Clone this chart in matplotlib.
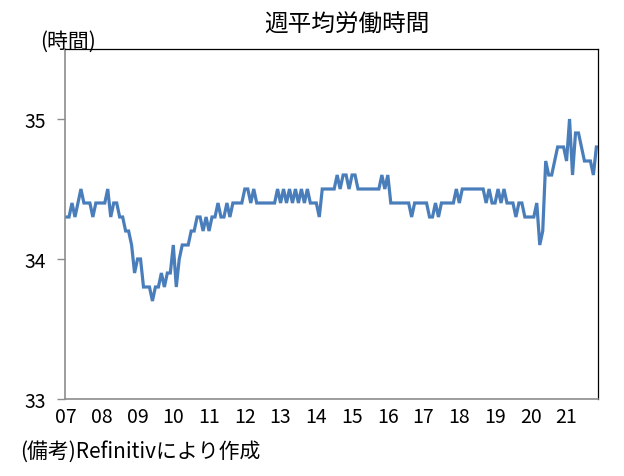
import matplotlib.pyplot as plt
import numpy as np

plt.rcParams['font.family'] = ['Noto Sans CJK JP', 'DejaVu Sans']

# 月次データ 2007年1月〜2021年11月 (週平均労働時間)
hours = [
    # 2007
    34.3, 34.3, 34.4, 34.3, 34.4, 34.5, 34.4, 34.4, 34.4, 34.3, 34.4, 34.4,
    # 2008
    34.4, 34.4, 34.5, 34.3, 34.4, 34.4, 34.3, 34.3, 34.2, 34.2, 34.1, 33.9,
    # 2009
    34.0, 34.0, 33.8, 33.8, 33.8, 33.7, 33.8, 33.8, 33.9, 33.8, 33.9, 33.9,
    # 2010
    34.1, 33.8, 34.0, 34.1, 34.1, 34.1, 34.2, 34.2, 34.3, 34.3, 34.2, 34.3,
    # 2011
    34.2, 34.3, 34.3, 34.4, 34.3, 34.3, 34.4, 34.3, 34.4, 34.4, 34.4, 34.4,
    # 2012
    34.5, 34.5, 34.4, 34.5, 34.4, 34.4, 34.4, 34.4, 34.4, 34.4, 34.4, 34.5,
    # 2013
    34.4, 34.5, 34.4, 34.5, 34.4, 34.5, 34.4, 34.5, 34.4, 34.5, 34.4, 34.4,
    # 2014
    34.4, 34.3, 34.5, 34.5, 34.5, 34.5, 34.5, 34.6, 34.5, 34.6, 34.6, 34.5,
    # 2015
    34.6, 34.6, 34.5, 34.5, 34.5, 34.5, 34.5, 34.5, 34.5, 34.5, 34.6, 34.5,
    # 2016
    34.6, 34.4, 34.4, 34.4, 34.4, 34.4, 34.4, 34.4, 34.3, 34.4, 34.4, 34.4,
    # 2017
    34.4, 34.4, 34.3, 34.3, 34.4, 34.3, 34.4, 34.4, 34.4, 34.4, 34.4, 34.5,
    # 2018
    34.4, 34.5, 34.5, 34.5, 34.5, 34.5, 34.5, 34.5, 34.5, 34.4, 34.5, 34.4,
    # 2019
    34.4, 34.5, 34.4, 34.5, 34.4, 34.4, 34.4, 34.3, 34.4, 34.4, 34.3, 34.3,
    # 2020
    34.3, 34.3, 34.4, 34.1, 34.2, 34.7, 34.6, 34.6, 34.7, 34.8, 34.8, 34.8,
    # 2021
    34.7, 35.0, 34.6, 34.9, 34.9, 34.8, 34.7, 34.7, 34.7, 34.6, 34.8,
]
year_labels = ['07', '08', '09', '10', '11', '12', '13', '14', '15',
               '16', '17', '18', '19', '20', '21']
y_ticks = [33, 34, 35]

fig = plt.figure(figsize=(6.24, 4.77), dpi=100)
ax = fig.add_axes([65 / 624, 1 - 400 / 477, 533 / 624, 350 / 477])

x = np.arange(len(hours))
ax.plot(x, hours, color='#4A7EBB', linewidth=2.3, solid_joinstyle='miter')

ax.set_xlim(-0.35, len(hours) - 0.45)
ax.set_ylim(33, 35.5)
ax.set_yticks(y_ticks)
ax.set_yticklabels([str(v) for v in y_ticks], fontsize=14)
ax.set_xticks(np.arange(len(year_labels)) * 12)
ax.set_xticklabels(year_labels, fontsize=14)

ax.tick_params(axis='x', length=0, pad=5)
ax.tick_params(axis='y', length=6, width=1, color='#8c8c8c', pad=8)

for side in ['left', 'bottom']:
    ax.spines[side].set_color('#8c8c8c')
    ax.spines[side].set_linewidth(1.2)
for side in ['top', 'right']:
    ax.spines[side].set_color('black')
    ax.spines[side].set_linewidth(0.9)

fig.text(347 / 624, 1 - 25 / 477, '週平均労働時間', ha='center', va='center', fontsize=17)
fig.text(40 / 624, 1 - 42 / 477, '(時間)', ha='left', va='center', fontsize=15)
fig.text(20 / 624, 1 - 452 / 477, '(備考)Refinitivにより作成', ha='left', va='center', fontsize=15)

fig.savefig('out.png', dpi=100)
